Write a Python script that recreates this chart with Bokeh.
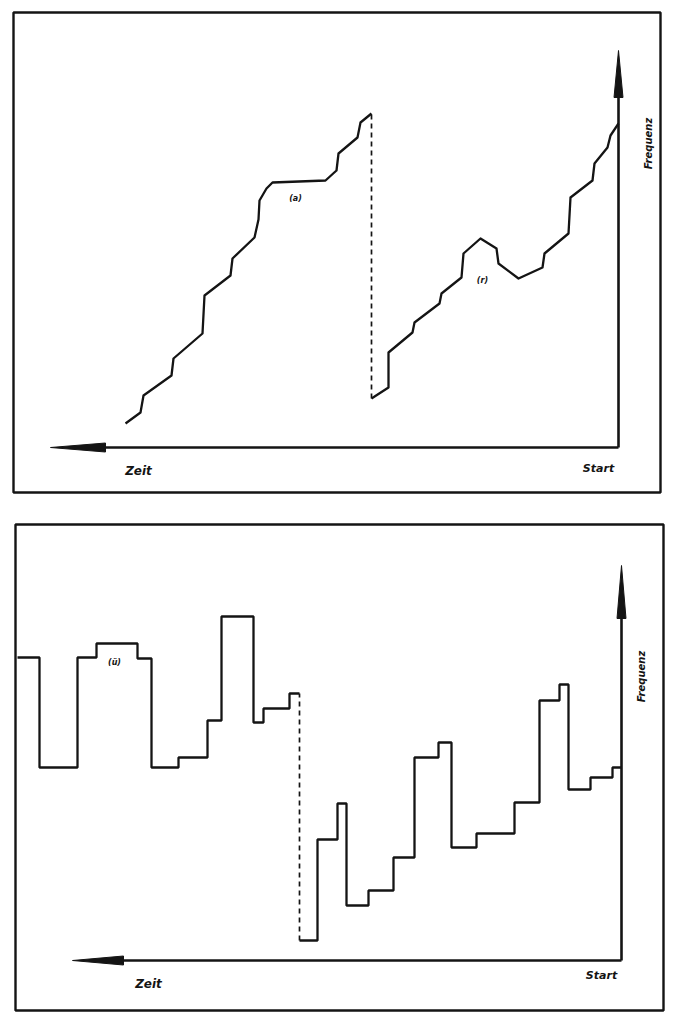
from bokeh.plotting import figure
from bokeh.layouts import column
from bokeh.models import Range1d
from bokeh.core.properties import value
from bokeh.embed import file_html
from bokeh.resources import INLINE

# ---------------- data (time t grows to the left, frequency f upward) ----------------
# Top panel: curve (a) before the jump, curve (r) after the jump
a_t = [493, 478, 475, 447, 445, 416, 414, 388, 386, 364, 360, 359, 352, 346, 293, 282, 280, 261, 258, 247]
a_f = [24, 35, 52, 72, 89, 114, 152, 172, 189, 210, 228, 247, 259, 265, 267, 277, 294, 310, 325, 334]
r_t = [247, 230, 230, 206, 204, 179, 177, 157, 155, 138, 122, 120, 100, 76, 74, 50, 48, 26, 24, 11, 8, 0]
r_f = [49, 60, 95, 115, 125, 144, 154, 170, 194, 209, 199, 184, 169, 180, 194, 214, 250, 267, 284, 300, 312, 324]
jump_top_t = 247
jump_top_f = [49, 334]

# Bottom panel: step curves (ü) before and after the jump
u_left_edges = [604, 582, 544, 525, 484, 470, 443, 414, 400, 368, 358, 332, 322]
u_left_levels = [303, 193, 303, 317, 302, 193, 203, 240, 344, 238, 252, 267]
u_right_edges = [322, 304, 284, 275, 253, 228, 207, 183, 170, 145, 107, 82, 62, 53, 31, 9, 0]
u_right_levels = [20, 121, 157, 55, 70, 103, 203, 218, 113, 127, 158, 260, 276, 171, 183, 193]
jump_bot_t = 322
jump_bot_f = [20, 267]

INK = "#141414"


def panel(height, xr, yr, box, v_tip, v_base, h_tip, h_base, texts):
    p = figure(width=669, height=height, output_backend="svg", toolbar_location=None,
               x_range=Range1d(*xr), y_range=Range1d(*yr), min_border=0,
               background_fill_color="white", border_fill_color="white",
               outline_line_color=None)
    p.axis.visible = False
    p.grid.visible = False
    # frame
    p.quad(left=[box[0]], right=[box[1]], top=[box[2]], bottom=[box[3]],
           fill_color=None, line_color=INK, line_width=2.4)
    # axes
    p.line([0, 0], [0, v_base], line_color=INK, line_width=2.6)
    p.line([0, h_base], [0, 0], line_color=INK, line_width=2.6)
    p.patch([-4.5, 0, 4.5], [v_base, v_tip, v_base], fill_color=INK, line_color=INK)
    p.patch([h_base, h_tip, h_base], [-4.5, 0, 4.5], fill_color=INK, line_color=INK)
    for (tx, ty, s, ang, size) in texts:
        p.text(x=[tx], y=[ty], text=[s], angle=ang, text_font=value("DejaVu Sans"),
               text_font_style="bold italic", text_font_size=size, text_color=INK,
               text_align="center", text_baseline="middle")
    return p


p1 = panel(500, (618, -51), (-53, 447), (605, -42, 435, -45),
           397, 350, 568, 513,
           [(480, -23, "Zeit", 0, "12px"), (20, -21, "Start", 0, "11px"),
            (-30, 304, "Frequenz", 1.5708, "10px"),
            (323, 249, "(a)", 0, "8px"), (136, 167, "(r)", 0, "8px")])
p1.line(a_t, a_f, line_color=INK, line_width=2.3, line_join="round")
p1.line(r_t, r_f, line_color=INK, line_width=2.3, line_join="round")
p1.line([jump_top_t, jump_top_t], jump_top_f, line_color=INK, line_width=1.7, line_dash="5 4")

p2 = panel(516, (621, -48), (-56, 460), (606, -42, 436, -50),
           395, 342, 549, 498,
           [(473, -23, "Zeit", 0, "12px"), (20, -15, "Start", 0, "11px"),
            (-20, 284, "Frequenz", 1.5708, "10px"),
            (507, 298, "(ü)", 0, "8px")])
p2.step(u_left_edges, u_left_levels + [u_left_levels[-1]], mode="after",
        line_color=INK, line_width=2.3)
p2.step(u_right_edges, u_right_levels + [u_right_levels[-1]], mode="after",
        line_color=INK, line_width=2.3)
p2.line([jump_bot_t, jump_bot_t], jump_bot_f, line_color=INK, line_width=1.7, line_dash="5 4")

layout = column(p1, p2, spacing=0)
open("out.html", "w").write(file_html(layout, INLINE))
